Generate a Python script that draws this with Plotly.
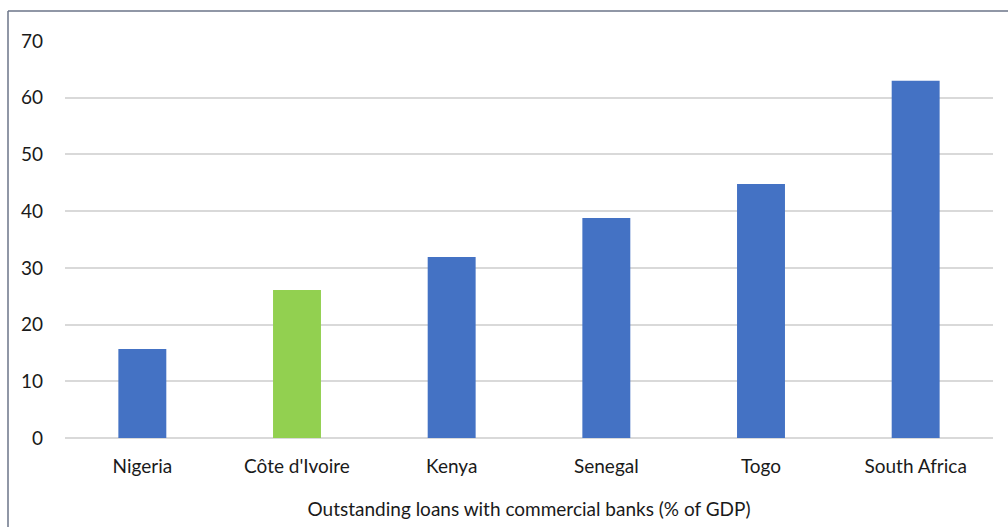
import plotly.graph_objects as go

countries = ["Nigeria", "Côte d'Ivoire", "Kenya", "Senegal", "Togo", "South Africa"]
loans_pct_gdp = [15.7, 26.1, 31.9, 38.8, 44.8, 63.0]
bar_colors = ["#4472C4", "#92D050", "#4472C4", "#4472C4", "#4472C4", "#4472C4"]
y_ticks = [0, 10, 20, 30, 40, 50, 60, 70]
x_title = "Outstanding loans with commercial banks (% of GDP)"

W, H = 1008, 527
L, R, T, B = 65, 15, 41, 89
plot_w, plot_h = W - L - R, H - T - B

def px_x(px):
    return (px - L) / plot_w

def px_y(py):
    return (H - B - py) / plot_h

font_family = "Lato, 'Open Sans', sans-serif"

fig = go.Figure(
    go.Bar(
        x=countries,
        y=loans_pct_gdp,
        marker=dict(color=bar_colors, line=dict(width=0)),
        width=0.31,
    )
)

fig.update_layout(
    width=W,
    height=H,
    margin=dict(l=L, r=R, t=T, b=B),
    paper_bgcolor="white",
    plot_bgcolor="white",
    showlegend=False,
    font=dict(family=font_family, size=19, color="#1a1a1a"),
    xaxis=dict(
        showgrid=False,
        showline=False,
        ticks="",
        tickfont=dict(size=19),
        ticklabelstandoff=15,
        title=dict(text=x_title, font=dict(size=19), standoff=26),
    ),
    yaxis=dict(
        range=[0, 70],
        tickvals=y_ticks,
        showgrid=True,
        gridcolor="#D9D9D9",
        gridwidth=2,
        zeroline=True,
        zerolinecolor="#D9D9D9",
        zerolinewidth=2,
        showline=False,
        ticks="",
        ticklabelstandoff=21,
        tickfont=dict(size=19),
    ),
    shapes=[
        # outer chart frame (left and top edges)
        dict(type="line", xref="paper", yref="paper",
             x0=px_x(8), x1=px_x(8), y0=px_y(11), y1=px_y(H + 5),
             line=dict(color="#6B7588", width=1.5)),
        dict(type="line", xref="paper", yref="paper",
             x0=px_x(8), x1=px_x(W + 5), y0=px_y(11), y1=px_y(11),
             line=dict(color="#6B7588", width=1.5)),
    ],
)

fig.write_html("out.html")
